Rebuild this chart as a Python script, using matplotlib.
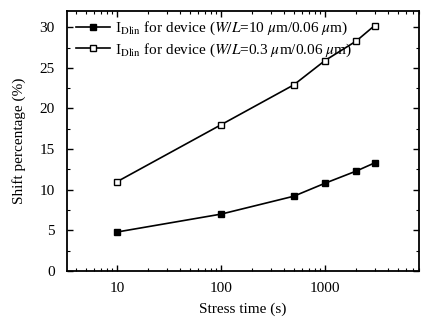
import matplotlib
matplotlib.use("Agg")
import matplotlib.pyplot as plt
from matplotlib.ticker import LogLocator, NullFormatter, MultipleLocator

plt.rcParams["font.family"] = "Liberation Serif"
plt.rcParams["mathtext.fontset"] = "stix"

# stress time (s) and shift percentage for the two device sizes
stress_time = [10, 100, 500, 1000, 2000, 3000]
shift_wide = [4.8, 7.0, 9.2, 10.8, 12.3, 13.3]
shift_narrow = [11.0, 18.0, 22.9, 25.9, 28.3, 30.2]

fig = plt.figure(figsize=(4.39, 3.23), dpi=100)
ax = fig.add_axes([0.153, 0.161, 0.801, 0.805])

ax.plot(stress_time, shift_wide, "k-s", ms=5, lw=1.2, mfc="black",
        label=r"I$_{\rm Dlin}$ for device ($W/L$=10 $\mu$m/0.06 $\mu$m)")
ax.plot(stress_time, shift_narrow, "k-s", ms=5, lw=1.2, mfc="white",
        label=r"I$_{\rm Dlin}$ for device ($W/L$=0.3 $\mu$m/0.06 $\mu$m)")

ax.set_xscale("log")
ax.set_xlim(3.3, 8000)
ax.set_ylim(0, 32)
ax.xaxis.set_minor_locator(LogLocator(base=10, subs=range(2, 10), numticks=10))
ax.xaxis.set_minor_formatter(NullFormatter())
ax.set_xticks([10, 100, 1000])
ax.set_xticklabels(["10", "100", "1000"])
ax.yaxis.set_major_locator(MultipleLocator(5))
ax.yaxis.set_minor_locator(MultipleLocator(2.5))

ax.tick_params(which="both", direction="in", top=True, right=True, labelsize=11)
ax.tick_params(which="major", length=4, width=1)
ax.tick_params(which="minor", length=2, width=0.8)
ax.tick_params(axis="y", which="major", pad=9)
ax.tick_params(axis="x", which="major", pad=8)
for s in ax.spines.values():
    s.set_linewidth(1.3)

ax.set_xlabel("Stress time (s)", fontsize=11, labelpad=5)
ax.set_ylabel("Shift percentage (%)", fontsize=11, labelpad=10)

ax.legend(loc="upper left", frameon=False, fontsize=11, handlelength=2.2,
          handletextpad=0.3, borderaxespad=0.1, borderpad=0.5,
          labelspacing=0.25)

fig.savefig("out.png", dpi=100)
